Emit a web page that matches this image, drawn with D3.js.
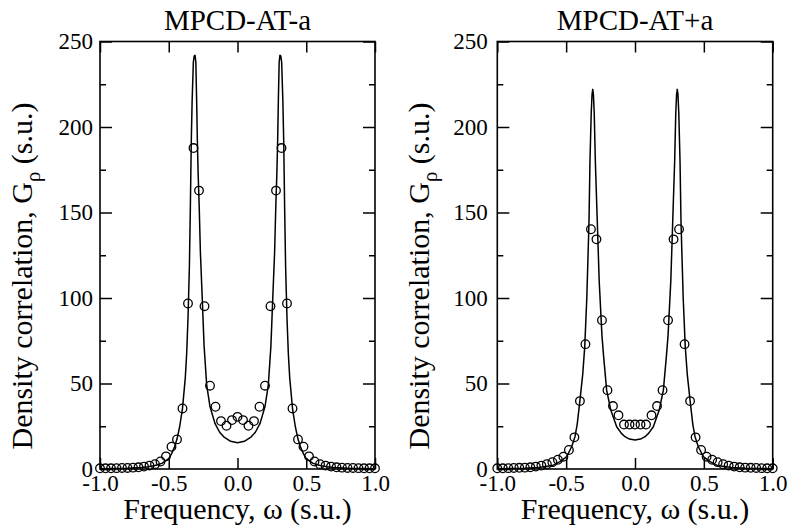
<!DOCTYPE html>
<html>
<head>
<meta charset="utf-8">
<script src="https://cdn.jsdelivr.net/npm/d3@7"></script>
<style>
  html, body { margin: 0; padding: 0; background: #fff; }
  svg { display: block; }
</style>
</head>
<body>
<svg id="chart" width="791" height="529"></svg>
<script>
// ---------------- data ----------------
const titles = ["MPCD-AT-a", "MPCD-AT+a"];
const xTicks = [-1.0, -0.5, 0.0, 0.5, 1.0];
const yTicks = [0, 50, 100, 150, 200, 250];
const yMinorTicks = [25, 75, 125, 175, 225];

// simulation points (circles)
const omega = [-1.00,-0.96,-0.92,-0.88,-0.84,-0.80,-0.76,-0.72,-0.68,-0.64,-0.60,-0.56,-0.52,-0.48,-0.44,-0.40,-0.36,-0.32,-0.28,-0.24,-0.20,-0.16,-0.12,-0.08,-0.04,0.00,
               0.04,0.08,0.12,0.16,0.20,0.24,0.28,0.32,0.36,0.40,0.44,0.48,0.52,0.56,0.60,0.64,0.68,0.72,0.76,0.80,0.84,0.88,0.92,0.96,1.00];
const densityLeft = [0.4,0.4,0.4,0.5,0.6,0.6,0.8,1.0,1.4,2.0,2.8,4.4,7.4,13.0,17.3,35.4,96.8,187.7,162.8,95.2,48.7,36.4,28.0,25.3,28.6,30.5,
                     28.6,25.3,28.0,36.4,48.7,95.2,162.8,187.7,96.8,35.4,17.3,13.0,7.4,4.4,2.8,2.0,1.4,1.0,0.8,0.6,0.6,0.5,0.4,0.4,0.4];
const densityRight = [0.4,0.4,0.5,0.6,0.7,0.8,1.0,1.4,2.0,2.8,4.0,5.4,7.2,11.1,18.5,39.7,73.0,140.2,134.3,87.0,46.1,36.8,31.4,26.0,26.0,26.0,
                      26.0,26.0,31.4,36.8,46.1,87.0,134.3,140.2,73.0,39.7,18.5,11.1,7.2,5.4,4.0,2.8,2.0,1.4,1.0,0.8,0.7,0.6,0.5,0.4,0.4];

// theory curves (solid lines)
const curveOmegaLeft = [-1.0,-0.9,-0.8,-0.7,-0.65,-0.6,-0.55,-0.5,-0.48,-0.46,-0.44,-0.42,-0.40,-0.38,-0.37,-0.36,-0.35,-0.343,-0.336,-0.33,-0.321,-0.315,-0.309,-0.303,-0.297,-0.292,-0.286,-0.279,-0.27,-0.256,-0.243,-0.224,-0.2,-0.164,-0.13,-0.1,-0.05,0,
                        0.05,0.1,0.13,0.164,0.2,0.224,0.243,0.256,0.27,0.279,0.286,0.292,0.297,0.303,0.309,0.315,0.321,0.33,0.336,0.343,0.35,0.36,0.37,0.38,0.40,0.42,0.44,0.46,0.48,0.5,0.55,0.6,0.65,0.7,0.8,0.9,1.0];
const curveLeft = [0.2,0.3,0.5,0.9,1.3,2.0,3.3,6.0,8.8,12.5,17.5,25,35.5,53,67,88,118,152,192,215,238,241.5,242,238,215,192,172,155,127,99,72,49,36.5,26.7,21.5,18.8,16.2,15.4,
                   16.2,18.8,21.5,26.7,36.5,49,72,99,127,155,172,192,215,238,242,241.5,238,215,192,152,118,88,67,53,35.5,25,17.5,12.5,8.8,6.0,3.3,2.0,1.3,0.9,0.5,0.3,0.2];
const curveOmegaRight = [-1.0,-0.9,-0.8,-0.7,-0.6,-0.545,-0.5,-0.484,-0.46,-0.436,-0.42,-0.40,-0.38,-0.365,-0.35,-0.341,-0.334,-0.327,-0.318,-0.312,-0.307,-0.302,-0.296,-0.288,-0.274,-0.26,-0.24,-0.228,-0.206,-0.176,-0.133,-0.1,-0.073,-0.04,0,
                         0.04,0.073,0.1,0.133,0.176,0.206,0.228,0.24,0.26,0.274,0.288,0.296,0.302,0.307,0.312,0.318,0.327,0.334,0.341,0.35,0.365,0.38,0.40,0.42,0.436,0.46,0.484,0.5,0.545,0.6,0.7,0.8,0.9,1.0];
const curveRight = [0.2,0.3,0.5,0.9,2.0,4.3,7.0,9.2,13,18.9,26,40,55,71.4,100,125,145,180,208,219,222,219,208,180,145,110,78,66,46.1,34.5,24.7,21,18.9,17.5,16.9,
                    17.5,18.9,21,24.7,34.5,46.1,66,78,110,145,180,208,219,222,219,208,180,145,125,100,71.4,55,40,26,18.9,13,9.2,7.0,4.3,2.0,0.9,0.5,0.3,0.2];

// ---------------- layout ----------------
const FONT = "'Liberation Serif', 'DejaVu Serif', 'Times New Roman', serif";
const svg = d3.select("#chart").attr("font-family", FONT);
const plotTop = 41.5, plotBottom = 469;
const panels = [
  { title: titles[0], pts: densityLeft, cx: curveOmegaLeft, cy: curveLeft, left: 100, right: 375, yPad: 7 },
  { title: titles[1], pts: densityRight, cx: curveOmegaRight, cy: curveRight, left: 497.3, right: 772.7, yPad: 9.5 }
];
const y = d3.scaleLinear().domain([0, 250]).range([plotBottom, plotTop]);
const fmtX = d => d.toFixed(1);

panels.forEach(p => {
  const x = d3.scaleLinear().domain([-1, 1]).range([p.left, p.right]);
  const g = svg.append("g");
  const midX = (p.left + p.right) / 2;

  // curve
  const line = d3.line().x((d, i) => x(p.cx[i])).y(d => y(d));
  g.append("path").datum(p.cy)
    .attr("d", line)
    .attr("fill", "none").attr("stroke", "#000").attr("stroke-width", 1.5)
    .attr("stroke-linejoin", "round");

  // points
  g.selectAll("circle.pt").data(p.pts).join("circle")
    .attr("class", "pt")
    .attr("cx", (d, i) => x(omega[i]))
    .attr("cy", d => y(d))
    .attr("r", 4.3)
    .attr("fill", "none").attr("stroke", "#000").attr("stroke-width", 1.3);

  // axes
  const axB = g.append("g").attr("transform", `translate(0,${plotBottom})`)
    .call(d3.axisBottom(x).tickValues(xTicks).tickFormat(fmtX).tickSizeInner(-11).tickSizeOuter(0).tickPadding(5.5));
  const axT = g.append("g").attr("transform", `translate(0,${plotTop})`)
    .call(d3.axisTop(x).tickValues(xTicks).tickFormat("").tickSizeInner(-11).tickSizeOuter(0));
  const axL = g.append("g").attr("transform", `translate(${p.left},0)`)
    .call(d3.axisLeft(y).tickValues(yTicks).tickFormat(d3.format("d")).tickSizeInner(-12).tickSizeOuter(0).tickPadding(p.yPad));
  const axLm = g.append("g").attr("transform", `translate(${p.left},0)`)
    .call(d3.axisLeft(y).tickValues(yMinorTicks).tickFormat("").tickSizeInner(-6).tickSizeOuter(0));
  const axR = g.append("g").attr("transform", `translate(${p.right},0)`)
    .call(d3.axisRight(y).tickValues(yTicks).tickFormat("").tickSizeInner(-12).tickSizeOuter(0));
  const axRm = g.append("g").attr("transform", `translate(${p.right},0)`)
    .call(d3.axisRight(y).tickValues(yMinorTicks).tickFormat("").tickSizeInner(-6).tickSizeOuter(0));

  [axB, axT, axL, axLm, axR, axRm].forEach(a => {
    a.attr("font-family", FONT).attr("font-size", 23);
    a.select(".domain").remove();
    a.selectAll("line").attr("stroke", "#000").attr("stroke-width", 1.5);
    a.selectAll("text").attr("fill", "#000");
  });

  // frame
  g.append("rect")
    .attr("x", p.left).attr("y", plotTop)
    .attr("width", p.right - p.left).attr("height", plotBottom - plotTop)
    .attr("fill", "none").attr("stroke", "#000").attr("stroke-width", 1.6);

  // title
  g.append("text").attr("x", midX).attr("y", 29.5)
    .attr("text-anchor", "middle").attr("font-size", 29).text(p.title);

  // x label
  g.append("text").attr("x", midX).attr("y", 519)
    .attr("text-anchor", "middle").attr("font-size", 30).text("Frequency, ω (s.u.)");

  // y label
  const yl = g.append("text")
    .attr("transform", `translate(${p.left - 68.5},276) rotate(-90)`)
    .attr("text-anchor", "middle").attr("font-size", 30);
  yl.append("tspan").text("Density correlation, G");
  yl.append("tspan").attr("dy", 8).attr("font-size", 21).text("ρ");
  yl.append("tspan").attr("dy", -8).text(" (s.u.)");
});
</script>
</body>
</html>
